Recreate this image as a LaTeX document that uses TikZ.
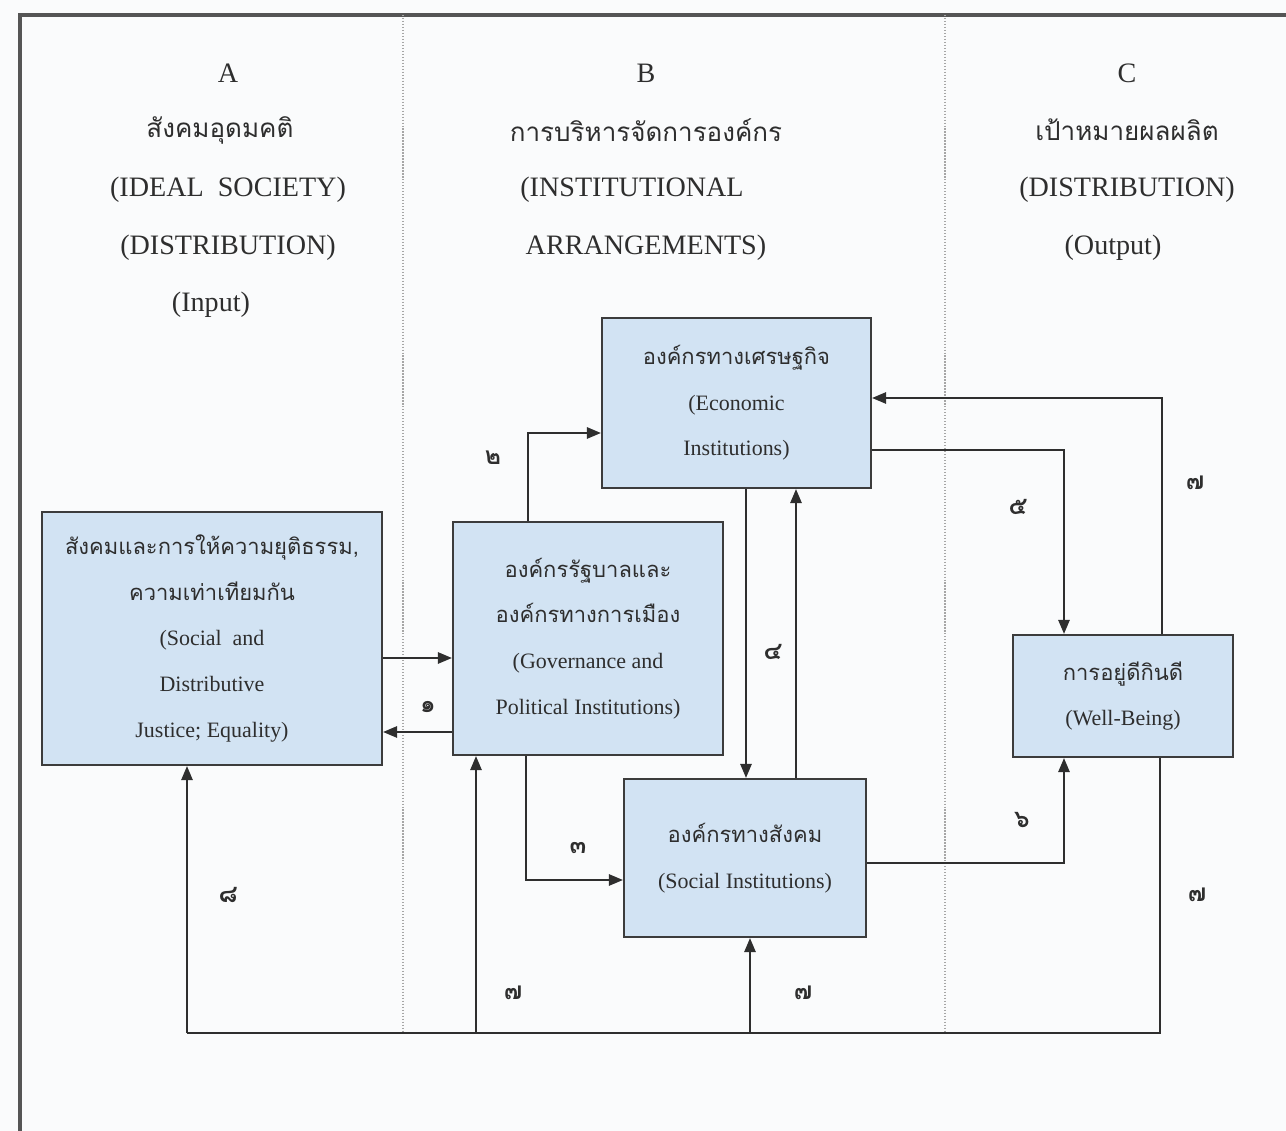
\documentclass[tikz,border=0pt]{standalone}
\usepackage{fontspec}
\setmainfont{Liberation Serif}
\newfontfamily\thai[Script=Thai]{Loma}
\usetikzlibrary{arrows.meta}
\definecolor{boxfill}{HTML}{D2E3F3}
\definecolor{boxline}{HTML}{3C3C3C}
\definecolor{bgcol}{HTML}{FAFBFC}
\definecolor{inkcol}{HTML}{2E2E2E}
\definecolor{framecol}{HTML}{555555}
\begin{document}
\begin{tikzpicture}[x=0.02cm,y=-0.02cm,
  box/.style={draw=boxline, fill=boxfill, line width=1.3pt, inner sep=0pt, align=center,
    text=inkcol, font=\fontsize{12.5}{26}\selectfont},
  head/.style={text=inkcol, font=\fontsize{16}{18}\selectfont, inner sep=0pt},
  thead/.style={text=inkcol, font=\thai\fontsize{14.8}{18}\selectfont, inner sep=0pt},
  lab/.style={text=inkcol, font=\thai\bfseries\fontsize{14}{14}\selectfont, inner sep=0pt},
  arr/.style={draw=inkcol, line width=1pt, -{Triangle[length=8pt,width=6.5pt]}},
  conn/.style={draw=inkcol, line width=1pt},
  colsep/.style={draw=gray!70, line width=0.7pt, densely dotted}]
\fill[bgcol] (0,0) rectangle (1286,1131);
\useasboundingbox (0,0) rectangle (1286,1131);

% frame
\draw[framecol, line width=1.8pt] (20,1131) -- (20,15) -- (1286,15);
\draw[colsep] (403,15) -- (403,1033);
\draw[colsep] (945,15) -- (945,1033);

% column headers
\node[head]  (hA1) at (228,73)  {A};
\node[thead] (hA2) at (220,130) {สังคมอุดมคติ};
\node[head]  (hA3) at (228,190) {(IDEAL\ \ SOCIETY)};
\node[head]  (hA4) at (228,248) {(DISTRIBUTION)};
\node[head]  (hA5) at (211,305) {(Input)};

\node[head]  (hB1) at (646,73)  {B};
\node[thead] (hB2) at (646,130) {การบริหารจัดการองค์กร};
\node[head]  (hB3) at (632,190) {(INSTITUTIONAL};
\node[head]  (hB4) at (646,248) {ARRANGEMENTS)};

\node[head]  (hC1) at (1127,73)  {C};
\node[thead] (hC2) at (1127,130) {เป้าหมายผลผลิต};
\node[head]  (hC3) at (1127,190) {(DISTRIBUTION)};
\node[head]  (hC4) at (1113,248) {(Output)};

% boxes
\node[box, minimum width=6.8cm, minimum height=5.06cm] (Abox) at (212,638.5)
  {{\thai สังคมและการให้ความยุติธรรม,}\\{\thai ความเท่าเทียมกัน}\\(Social\ \ and\\Distributive\\Justice; Equality)};
\node[box, minimum width=5.4cm, minimum height=4.66cm] (gov) at (588,638.5)
  {{\thai องค์กรรัฐบาลและ}\\{\thai องค์กรทางการเมือง}\\(Governance and\\Political Institutions)};
\node[box, minimum width=5.38cm, minimum height=3.4cm] (econ) at (736.5,403)
  {{\thai องค์กรทางเศรษฐกิจ}\\(Economic\\Institutions)};
\node[box, minimum width=4.84cm, minimum height=3.16cm] (social) at (745,858)
  {{\thai องค์กรทางสังคม}\\(Social Institutions)};
\node[box, minimum width=4.4cm, minimum height=2.44cm] (well) at (1123,696)
  {{\thai การอยู่ดีกินดี}\\(Well-Being)};

% connectors
\draw[arr] (Abox.east |- 0,658) -- (gov.west |- 0,658);
\draw[arr] (gov.west |- 0,732) -- (Abox.east |- 0,732);
\draw[arr] (gov.north -| 528,0) |- (econ.west |- 0,433);
\draw[arr] (econ.south -| 746,0) -- (social.north -| 746,0);
\draw[arr] (social.north -| 796,0) -- (econ.south -| 796,0);
\draw[arr] (gov.south -| 526,0) |- (social.west |- 0,880);
\draw[arr] (econ.east |- 0,450) -| (well.north -| 1064,0);
\draw[arr] (well.north -| 1162,0) |- (econ.east |- 0,398);
\draw[arr] (social.east |- 0,863) -| (well.south -| 1064,0);

% feedback loop
\coordinate (fbR) at (1160,1033);
\coordinate (fbL) at (187,1033);
\coordinate (fbG) at (476,1033);
\coordinate (fbS) at (750,1033);
\draw[conn] (well.south -| fbR) -- (fbR) -- (fbL);
\draw[arr] (fbL) -- (Abox.south -| fbL);
\draw[arr] (fbG) -- (gov.south -| fbG);
\draw[arr] (fbS) -- (social.south -| fbS);

% labels
\node[lab] (l1) at (428,707) {๑};
\node[lab] (l2) at (493,458) {๒};
\node[lab] (l3) at (578,848) {๓};
\node[lab] (l4) at (773,652) {๔};
\node[lab] (l5) at (1018,507) {๕};
\node[lab] (l6) at (1022,820) {๖};
\node[lab] (l7a) at (1195,483) {๗};
\node[lab] (l7b) at (1197,895) {๗};
\node[lab] (l7c) at (513,993) {๗};
\node[lab] (l7d) at (803,993) {๗};
\node[lab] (l8) at (228,895) {๘};
\end{tikzpicture}
\end{document}
